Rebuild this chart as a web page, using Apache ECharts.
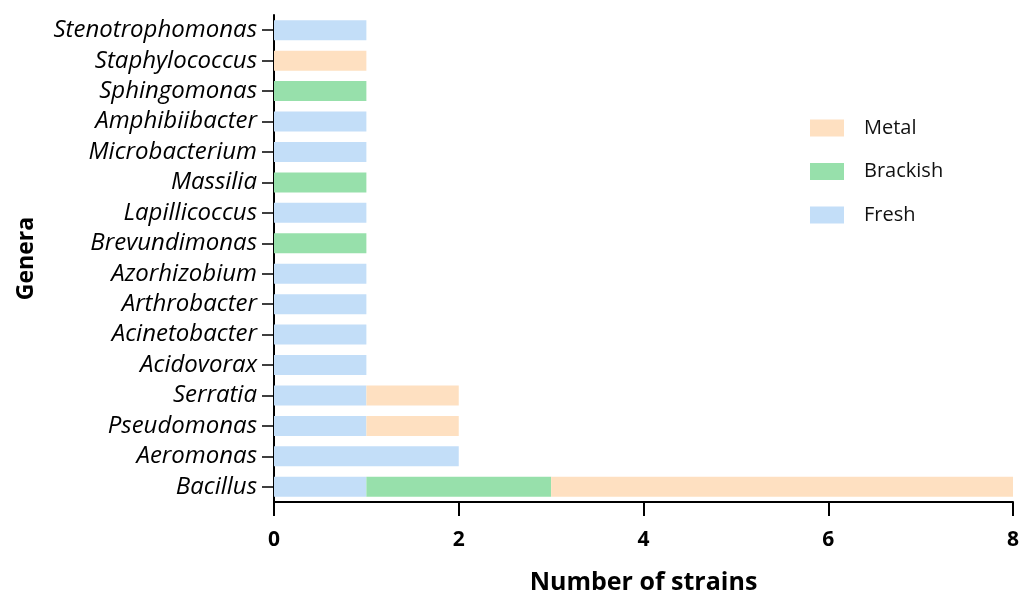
<!DOCTYPE html>
<html>
<head>
<meta charset="utf-8">
<script src="https://cdn.jsdelivr.net/npm/echarts@6/dist/echarts.min.js"></script>
<style>html,body{margin:0;padding:0;background:#fff}#c{width:1032px;height:594px}</style>
</head>
<body>
<div id="c"></div>
<script>
const genera = ['Bacillus','Aeromonas','Pseudomonas','Serratia','Acidovorax','Acinetobacter','Arthrobacter','Azorhizobium','Brevundimonas','Lapillicoccus','Massilia','Microbacterium','Amphibiibacter','Sphingomonas','Staphylococcus','Stenotrophomonas'];
const fresh    = [1,2,1,1,1,1,1,1,0,1,0,1,1,0,0,1];
const brackish = [2,0,0,0,0,0,0,0,1,0,1,0,0,1,0,0];
const metal    = [5,0,1,1,0,0,0,0,0,0,0,0,0,0,1,0];
const xTicks = [0,2,4,6,8];

const colors = {Fresh:'#c3def8', Brackish:'#97e0ab', Metal:'#fee0c1'};
const FONT = '"Open Sans", sans-serif';

const chart = echarts.init(document.getElementById('c'), null, {renderer:'canvas'});
function mk(name, data){
  return {name, type:'bar', stack:'total', data, barWidth:20,
    itemStyle:{color:colors[name]}, emphasis:{disabled:true}};
}
chart.setOption({
  animation:false,
  backgroundColor:'#fff',
  grid:{left:274, right:19, top:15, height:487, containLabel:false, outerBoundsMode:'none'},
  legend:{
    data:['Metal','Brackish','Fresh'], orient:'vertical', left:805, top:113,
    icon:'rect', itemWidth:34, itemHeight:17, itemGap:23.5,
    textStyle:{fontFamily:FONT, fontSize:20, color:'#111', padding:[0,0,0,15]},
    selectedMode:false
  },
  xAxis:{
    type:'value', min:xTicks[0], max:xTicks[xTicks.length-1], interval:2,
    name:'Number of strains', nameLocation:'middle', nameGap:68,
    nameTextStyle:{fontFamily:FONT, fontSize:25, fontWeight:'bold', color:'#000'},
    axisLine:{show:true, lineStyle:{color:'#000', width:2}},
    axisTick:{show:true, length:14, lineStyle:{color:'#000', width:2}},
    axisLabel:{fontFamily:FONT, fontSize:21, fontWeight:'bold', color:'#000', margin:28},
    splitLine:{show:false}
  },
  yAxis:{
    type:'category', data:genera,
    name:'Genera', nameLocation:'middle', nameGap:236, nameRotate:90,
    nameTextStyle:{fontFamily:FONT, fontSize:23, fontWeight:'bold', color:'#000'},
    axisLine:{show:true, lineStyle:{color:'#000', width:2}},
    axisTick:{show:true, alignWithLabel:true, length:12, lineStyle:{color:'#000', width:1.5}},
    axisLabel:{interval:0, fontFamily:FONT, fontSize:24, fontStyle:'italic', color:'#000', margin:17}
  },
  series:[mk('Fresh', fresh), mk('Brackish', brackish), mk('Metal', metal)]
});
</script>
</body>
</html>
